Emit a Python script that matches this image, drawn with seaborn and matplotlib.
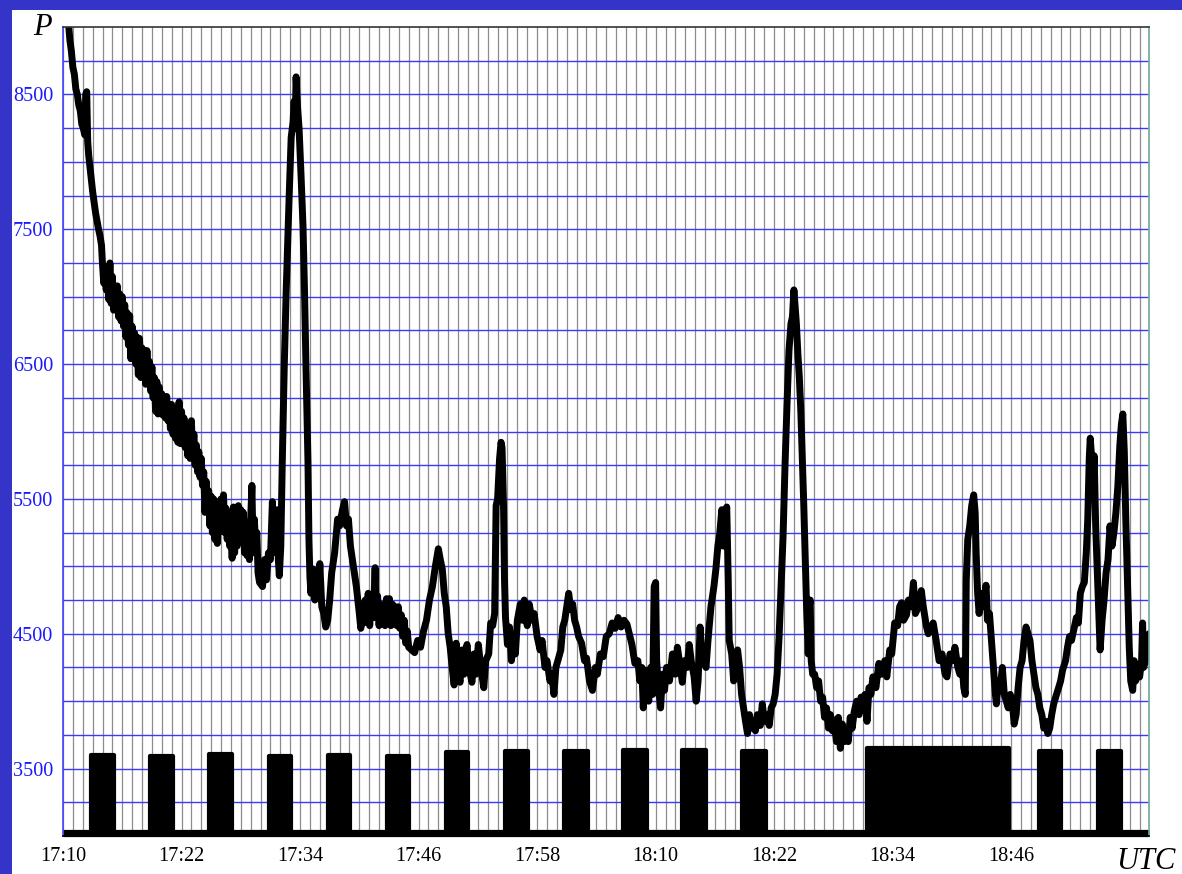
import numpy as np
import pandas as pd
import matplotlib
matplotlib.use("Agg")
import matplotlib.pyplot as plt
from matplotlib.patches import Rectangle
import seaborn as sns

# ---- data -------------------------------------------------------------
# P readings; time in minutes after 17:10 UTC

# 17:10 - 17:30, fast decay with strong scatter
t_decay = [
    0.5, 0.7, 0.85, 1.0, 1.15, 1.3, 1.45, 1.6, 1.75, 1.9, 2.05, 2.2, 2.3, 2.4,
    2.5, 2.6, 2.75, 2.9, 3.0, 3.15, 3.3, 3.45, 3.6, 3.75, 3.9,
    4.0, 4.125, 4.25, 4.375, 4.5, 4.625, 4.75, 4.875, 5.0, 5.125, 5.25, 5.375,
    5.5, 5.625, 5.75, 5.875, 6.0, 6.125, 6.25, 6.375, 6.5, 6.625, 6.75, 6.875,
    7.0, 7.125, 7.25, 7.375, 7.5, 7.625, 7.75, 7.875, 8.0, 8.125, 8.25, 8.375,
    8.5, 8.625, 8.75, 8.875, 9.0, 9.125, 9.25, 9.375, 9.5, 9.625, 9.75, 9.875,
    10.0, 10.125, 10.25, 10.375, 10.5, 10.625, 10.75, 10.875, 11.0, 11.125,
    11.25, 11.375, 11.5, 11.625, 11.75, 11.875, 12.0, 12.125, 12.25, 12.375,
    12.5, 12.625, 12.75, 12.875, 13.0, 13.125, 13.25, 13.375, 13.5, 13.625,
    13.75, 13.875, 14.0, 14.125, 14.25, 14.375, 14.5, 14.625, 14.75, 14.875,
    15.0, 15.125, 15.25, 15.375, 15.5, 15.625, 15.75, 15.875, 16.0, 16.125,
    16.25, 16.375, 16.5, 16.625, 16.75, 16.875, 17.0, 17.125, 17.25, 17.375,
    17.5, 17.625, 17.75, 17.875, 18.0, 18.125, 18.25, 18.375, 18.5, 18.625,
    18.75, 18.875, 19.0, 19.125, 19.25, 19.375, 19.5, 19.625, 19.75, 19.9,
]
p_decay = [
    9080, 8900, 8820, 8700, 8650, 8540, 8500, 8420, 8380, 8280, 8250, 8200, 8500, 8520,
    8150, 8050, 7950, 7850, 7780, 7700, 7620, 7560, 7500, 7450, 7380,
    7240, 7100, 7200, 7050, 7180, 6980, 7250, 6950, 7150, 6900, 7060, 6920,
    7080, 6850, 7020, 6820, 7000, 6780, 6940, 6700, 6880, 6640, 6860, 6540,
    6780, 6580, 6730, 6500, 6700, 6420, 6690, 6400, 6620, 6450, 6600, 6350,
    6600, 6380, 6520, 6300, 6480, 6250, 6400, 6150, 6370, 6130, 6330, 6150,
    6280, 6120, 6250, 6100, 6260, 6080, 6200, 6020, 6200, 5980,
    6150, 5950, 6120, 5920, 6220, 5910, 6150, 5950, 6100, 5880,
    6050, 5820, 6000, 5800, 6080, 5820, 5980, 5750, 5900, 5700,
    5850, 5660, 5800, 5600, 5700, 5400, 5630, 5420, 5560, 5300,
    5520, 5250, 5500, 5200, 5480, 5170, 5420, 5280, 5500, 5260,
    5530, 5250, 5430, 5200, 5400, 5150, 5350, 5060, 5440, 5100,
    5400, 5150, 5450, 5200, 5420, 5180, 5400, 5100, 5330, 5080,
    5300, 5050, 5350, 5600, 5100, 5350, 5150, 5250, 4950, 4880,
]

# 17:30 - 19:00
t_rest = [
    20.2, 20.4, 20.6, 20.8, 21.0, 21.2,
    21.3, 21.5, 21.7, 21.8, 21.9, 22.05, 22.2, 22.4, 22.6, 22.9, 23.1, 23.3,
    23.4, 23.5, 23.6, 23.75, 23.9, 24.1, 24.3, 24.45, 24.6, 24.8, 24.9,
    25.0, 25.1, 25.3, 25.5, 25.7, 25.9, 26.0, 26.2, 26.4, 26.6, 26.8, 27.0,
    27.2, 27.5, 27.8, 28.0, 28.3, 28.5, 28.7, 28.9, 29.1, 29.4, 29.7,
    30.0, 30.15, 30.3, 30.45, 30.6, 30.75, 30.9, 31.05, 31.2, 31.35, 31.5,
    31.6, 31.7, 31.85, 32.0, 32.15, 32.3, 32.45, 32.6, 32.75, 32.9, 33.05,
    33.2, 33.35, 33.5, 33.65, 33.8, 33.95, 34.1, 34.25, 34.4, 34.55, 34.7,
    34.85, 35.0, 35.3, 35.6,
    35.9, 36.2, 36.5, 36.8, 37.1, 37.4, 37.7, 38.0, 38.2, 38.4, 38.6, 38.8,
    39.0, 39.2, 39.4, 39.6, 39.8, 40.0, 40.2, 40.4, 40.6, 40.9, 41.1, 41.4,
    41.6, 41.8, 42.05, 42.3, 42.6, 42.8, 43.1, 43.3, 43.5, 43.7, 43.85, 44.0,
    44.2, 44.35, 44.45, 44.6, 44.7, 44.8, 45.0, 45.2, 45.4, 45.6, 45.8, 46.0,
    46.3, 46.5, 46.7, 47.0, 47.2, 47.5, 47.7, 48.0, 48.3, 48.5, 48.8, 49.0,
    49.3, 49.5, 49.7, 49.9, 50.1, 50.4, 50.6, 50.8, 51.0, 51.2, 51.4, 51.6,
    51.8, 52.0, 52.2, 52.5, 52.8, 53.0, 53.3, 53.6, 53.9, 54.1, 54.4, 54.7,
    55.0, 55.3, 55.6, 55.9, 56.2, 56.5, 56.8, 57.1, 57.4, 57.6, 57.9, 58.2,
    58.4, 58.6, 58.75, 58.9, 59.1, 59.3, 59.5, 59.7, 59.85, 60.0, 60.1, 60.3,
    60.5, 60.7, 60.9, 61.1, 61.4, 61.7, 62.0, 62.2, 62.5, 62.7, 62.9, 63.2,
    63.4, 63.6, 63.9, 64.1, 64.3, 64.5, 64.65, 64.9, 65.1, 65.3, 65.6, 65.9,
    66.1, 66.3, 66.5, 66.7, 66.85, 67.0, 67.2, 67.35, 67.45, 67.7, 67.9,
    68.1, 68.3, 68.5, 68.7, 68.9, 69.1, 69.3, 69.5, 69.7, 69.9, 70.1, 70.3,
    70.6, 70.8, 71.0, 71.2, 71.5, 71.7, 71.9, 72.1, 72.3, 72.5, 72.7, 72.9,
    73.1, 73.3, 73.5, 73.7, 73.85, 74.0, 74.1, 74.25, 74.4, 74.55, 74.7,
    74.85, 75.0, 75.2, 75.3, 75.45, 75.55, 75.65, 75.75, 75.9, 76.1, 76.3,
    76.5, 76.7, 76.9, 77.1, 77.3, 77.5, 77.7, 77.9, 78.1, 78.3, 78.5, 78.7,
    78.9, 79.1, 79.3, 79.5, 79.7, 79.9, 80.1, 80.35, 80.6, 80.8, 81.0, 81.2,
    81.4, 81.6, 81.8, 82.0, 82.3, 82.6, 82.9, 83.2, 83.4, 83.7, 83.9, 84.2,
    84.5, 84.7, 84.9, 85.1, 85.4, 85.6, 85.9, 86.1, 86.3, 86.6, 86.9, 87.1,
    87.4, 87.6, 87.9, 88.1, 88.4, 88.7, 89.0, 89.3, 89.5, 89.8, 90.1, 90.3,
    90.6, 90.8, 91.0, 91.2, 91.35, 91.45, 91.6, 91.8, 92.0, 92.2, 92.35,
    92.45, 92.6, 92.75, 92.95, 93.2, 93.45, 93.6, 93.8, 94.0, 94.2, 94.4,
    94.5, 94.7, 94.9, 95.1, 95.3, 95.5, 95.7, 95.9, 96.1, 96.3, 96.5, 96.7,
    96.9, 97.1, 97.3, 97.5, 97.7, 97.9, 98.1, 98.3, 98.5, 98.7, 98.9, 99.1,
    99.3, 99.5, 99.7, 99.9, 100.1, 100.3, 100.5, 100.8, 101.0, 101.2, 101.5,
    101.7, 101.9, 102.1, 102.4, 102.6, 102.8, 103.0, 103.2, 103.4, 103.6,
    103.75, 103.9, 104.0, 104.15, 104.3, 104.4, 104.55, 104.7, 104.85, 105.0,
    105.2, 105.4, 105.6, 105.8, 106.0, 106.2, 106.4, 106.6, 106.8, 107.0,
    107.15, 107.3, 107.45, 107.6, 107.8, 107.95, 108.1, 108.3, 108.45, 108.6,
    108.8, 109.0, 109.2, 109.3, 109.4, 109.6, 109.8, 109.95,
]
p_rest = [
    4850, 5050, 4900, 5100, 5050, 5480,
    5100, 5300, 5420, 5050, 4930, 5150, 5770, 6480, 7050, 7750, 8180, 8300,
    8450, 8250, 8630, 8400, 8250, 7900, 7520, 7050, 6480, 5780, 5200,
    4920, 4800, 4980, 4750, 4880, 4780, 5020, 4700, 4650, 4550, 4600, 4750,
    4950, 5100, 5350, 5300, 5420, 5480, 5300, 5350, 5150, 5000, 4850,
    4650, 4540, 4700, 4580, 4750, 4600, 4800, 4560, 4750, 4620, 4780,
    4990, 4620, 4780, 4560, 4720, 4580, 4700, 4560, 4760, 4600, 4760,
    4560, 4720, 4580, 4700, 4560, 4700, 4540, 4640, 4480, 4600, 4430,
    4520, 4400, 4380, 4360,
    4450, 4400, 4520, 4600, 4750, 4850, 5000, 5130, 5050, 4980, 4800, 4700,
    4500, 4400, 4250, 4120, 4430, 4200, 4140, 4380, 4200, 4420, 4250, 4140,
    4350, 4200, 4420, 4250, 4100, 4300, 4350, 4580, 4560, 4650, 5450, 5500,
    5800, 5920, 5880, 5450, 4900, 4620, 4420, 4550, 4300, 4450, 4350, 4600,
    4720, 4600, 4750, 4560, 4720, 4600, 4650, 4480, 4380, 4450, 4250, 4300,
    4150, 4200, 4050, 4250, 4300, 4380, 4550, 4600, 4700, 4800, 4680, 4720,
    4600, 4550, 4480, 4430, 4300, 4320, 4150, 4080, 4250, 4200, 4350, 4330,
    4480, 4500, 4580, 4540, 4620, 4550, 4600, 4570, 4480, 4420, 4280, 4300,
    4150, 4250, 3950, 4230, 4150, 4000, 4250, 4050, 4850, 4880, 4300, 4100,
    3950, 4200, 4080, 4250, 4150, 4350, 4200, 4400, 4250, 4140, 4300, 4250,
    4420, 4300, 4180, 4000, 4150, 4550, 4300, 4300, 4250, 4450, 4700, 4850,
    4980, 5150, 5250, 5420, 5150, 5350, 5440, 4900, 4450, 4350, 4150,
    4300, 4380, 4250, 4050, 3950, 3850, 3760, 3900, 3800, 3850, 3780, 3900,
    3820, 3980, 3850, 3900, 3820, 3950, 3980, 4050, 4200, 4480, 4850, 5220,
    5750, 6200, 6600, 6800, 6850, 7050, 6950, 6800, 6580, 6400, 6150,
    5800, 5450, 4900, 4650, 4350, 4700, 4750, 4300, 4200, 4200, 4100,
    4150, 4000, 4030, 3880, 3950, 3800, 3900, 3780, 3860, 3700, 3880, 3650,
    3830, 3700, 3750, 3700, 3880, 3800, 3920, 4000, 3900, 4030, 3980, 4050,
    3850, 4100, 4050, 4180, 4100, 4280, 4200, 4300, 4180, 4380, 4350, 4580,
    4560, 4700, 4730, 4600, 4640, 4750, 4700, 4880, 4650, 4700, 4820, 4700,
    4560, 4500, 4550, 4580, 4450, 4300, 4350, 4200, 4180, 4350, 4300, 4400,
    4250, 4200, 4300, 4100, 4050, 4900, 5200, 5300, 5450, 5530, 5400,
    5100, 4800, 4650, 4800, 4700, 4860, 4600, 4650, 4450, 4250, 4050,
    3980, 4150, 4100, 4250, 4050, 4000, 3950, 4050, 4000, 3830, 3900, 4100,
    4250, 4300, 4450, 4550, 4500, 4450, 4300, 4200, 4100, 4050, 3950, 3900,
    3800, 3850, 3760, 3800, 3900, 3980, 4030, 4100, 4150, 4230, 4300,
    4400, 4480, 4450, 4550, 4620, 4580, 4800, 4850, 4880, 5100,
    5350, 5800, 5950, 5800, 5580, 5820, 5300, 5000, 4700, 4380,
    4600, 4750, 4950, 5050, 5300, 5150, 5250, 5400, 5600, 5900,
    6050, 6130, 5850, 5350, 4800, 4400, 4150, 4080, 4300, 4150,
    4250, 4180, 4300, 4580, 4250, 4300, 4450, 4500,
]

# switching pulses along the bottom (start, end in minutes; top level)
pulse_start = [2.83, 8.8, 14.78, 20.85, 26.83, 32.8, 38.78, 44.76, 50.73,
               56.7, 62.68, 68.76, 81.4, 98.84, 104.8]
pulse_end = [5.16, 11.13, 17.1, 23.08, 29.06, 35.03, 41.0, 47.08, 53.16,
             59.14, 65.1, 71.19, 95.8, 101.07, 107.15]
pulse_top = [3600, 3595, 3610, 3590, 3600, 3595, 3625, 3630, 3630,
             3635, 3635, 3630, 3650, 3630, 3630]
pulse_base = 3025

x_ticks = [0, 12, 24, 36, 48, 60, 72, 84, 96]
x_tick_labels = ["17:10", "17:22", "17:34", "17:46", "17:58",
                 "18:10", "18:22", "18:34", "18:46"]
y_ticks = [3500, 4500, 5500, 6500, 7500, 8500]
x_range = (0, 109.95)
y_range = (3000, 9000)

# ---- style ------------------------------------------------------------
sns.set_theme(style="white")
plt.rcParams["font.family"] = ["Liberation Serif", "DejaVu Serif"]

W, H = 1182, 874
fig = plt.figure(figsize=(W / 100, H / 100), dpi=100)
fig.patch.set_facecolor("white")

frame_blue = "#3434c8"
fig.patches.append(Rectangle((0, 1 - 10 / H), 1, 10 / H, transform=fig.transFigure,
                             facecolor=frame_blue, edgecolor="none", zorder=0))
fig.patches.append(Rectangle((0, 0), 12 / W, 1, transform=fig.transFigure,
                             facecolor=frame_blue, edgecolor="none", zorder=0))

left, right, top, bottom = 63, 1149, 27, 836
ax = fig.add_axes([left / W, 1 - bottom / H, (right - left) / W, (bottom - top) / H])
ax.set_facecolor("white")

# grid: one grey line per minute, one blue line per 250
for m in range(0, int(x_range[1]) + 1):
    ax.axvline(m, color="#8c8c8c", lw=0.9, zorder=1)
for v in np.arange(y_range[0] + 250, y_range[1], 250):
    ax.axhline(v, color="#3a3aff", lw=1.0, zorder=1)

# pulses: filled blocks standing on a thick baseline
ax.plot(x_range, [pulse_base, pulse_base], color="black", lw=5.2,
        solid_capstyle="butt", zorder=3, clip_on=False)
for s, e, h in zip(pulse_start, pulse_end, pulse_top):
    ax.fill([s, s, e, e], [pulse_base, h, h, pulse_base], facecolor="black",
            edgecolor="black", lw=3.0, joinstyle="round", zorder=3)

# main curve
df = pd.DataFrame({"t": t_decay + t_rest, "P": p_decay + p_rest})
sns.lineplot(data=df, x="t", y="P", sort=False, estimator=None, color="black",
             lw=5.0, ax=ax, zorder=4)
ax.lines[-1].set_solid_joinstyle("round")
ax.lines[-1].set_solid_capstyle("round")

ax.set_xlim(*x_range)
ax.set_ylim(*y_range)
ax.set_xticks(x_ticks)
ax.set_xticklabels(x_tick_labels)
ax.set_yticks(y_ticks)
ax.set_yticklabels([str(v) for v in y_ticks])
ax.tick_params(axis="x", length=0, pad=8, labelsize=14.6, colors="black")
ax.tick_params(axis="y", length=0, pad=7, labelsize=14.6, labelcolor="#1a1aff")
ax.set_xlabel("")
ax.set_ylabel("")

ax.spines["left"].set_color("#4444ff")
ax.spines["top"].set_color("#333333")
ax.spines["right"].set_color("#6fa89c")
ax.spines["bottom"].set_color("black")
for s in ax.spines.values():
    s.set_linewidth(1.2)
    s.set_zorder(5)

fig.text(42 / W, 1 - 35 / H, "P", fontsize=22, style="italic", ha="center",
         va="baseline", color="black")
fig.text(1176 / W, 1 - 869 / H, "UTC", fontsize=22, style="italic", ha="right",
         va="baseline", color="black")

fig.savefig("out.png", dpi=100)
